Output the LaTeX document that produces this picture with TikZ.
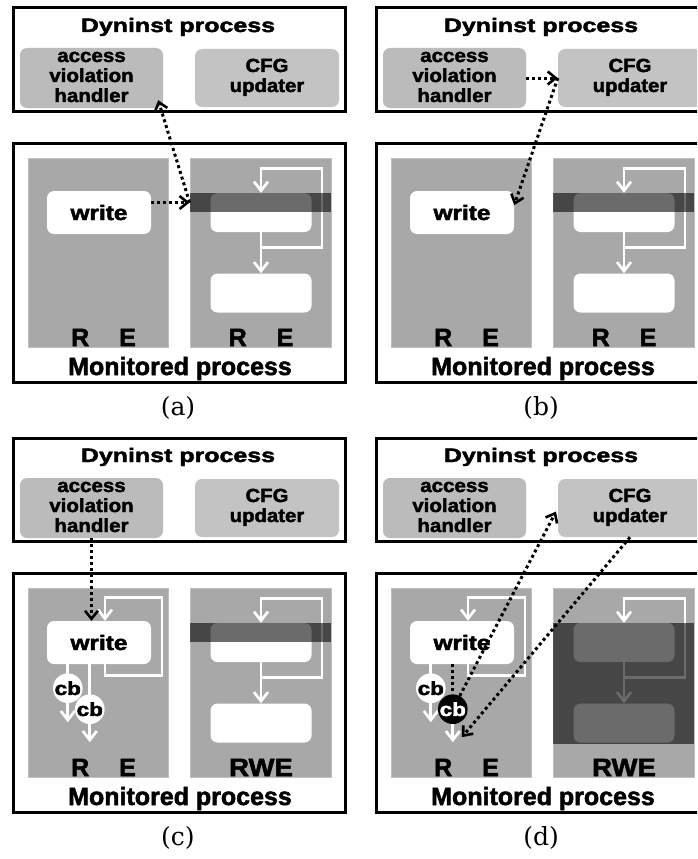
\documentclass[tikz,border=0pt]{standalone}
\usepackage{fontspec}
\usepackage{graphicx}
\newfontfamily\heavysans{Liberation Sans}[BoldFeatures={FakeBold=2}]
\newfontfamily\capserif{DejaVu Serif}
\usetikzlibrary{arrows.meta,calc,positioning}
\definecolor{regiongray}{HTML}{A8A8A8}
\definecolor{handlergray}{HTML}{BBBBBB}
\definecolor{updatergray}{HTML}{C3C3C3}
\newcommand{\wide}[2]{\scalebox{#1}[1]{#2}}
\newcommand{\bigsans}[1]{\heavysans\bfseries\fontsize{#1}{20}\selectfont}
\tikzset{
	outer box/.style={draw, line width=3pt, inner sep=0pt},
	region/.style={fill=regiongray, draw=white!75!black, line width=0.8pt, inner sep=0pt},
	tool box/.style={rounded corners=7pt, inner sep=0pt, minimum width=143pt, minimum height=58pt, font=\bigsans{19}},
	code box/.style={fill=white, rounded corners=7pt, inner sep=0pt, minimum width=101pt, minimum height=39pt},
	band/.style={fill=black, fill opacity=0.58, inner sep=0pt, minimum width=141pt, minimum height=19pt, anchor=north west},
	wline/.style={draw=white, line width=2.7pt},
	wtip/.style={-{Straight Barb[length=9pt, width=14pt]}},
	dotline/.style={line width=3pt, dash pattern=on 3pt off 3pt, line cap=butt},
	dotarrow/.style={dotline, -{Straight Barb[length=8pt, width=13pt, line width=2.6pt]}},
	cbnode/.style={circle, inner sep=0pt, minimum size=26pt, font=\bigsans{19}},
	perm/.style={font=\bigsans{25}, anchor=base},
	caption/.style={font=\capserif\fontsize{25}{30}\selectfont},
}
\begin{document}
\begin{tikzpicture}[x=1pt, y=-1pt]
\useasboundingbox (0,0) rectangle (697,859);
\clip (0,0) rectangle (697,859);

\foreach \p/\dx/\dy/\rlab in {a/0/0/{R\hspace{30pt}E}, b/363/0/{R\hspace{30pt}E}, c/0/430/{\wide{1.1}{RWE}}, d/363/430/{\wide{1.1}{RWE}}}{
\begin{scope}[shift={(\dx,\dy)}]
	% Dyninst side
	\node[outer box, minimum width=332pt, minimum height=103pt] (dyn\p) at (179,59.5) {};
	\node[font=\bigsans{19.5}, anchor=base] (dtitle\p) at (178,32) {\wide{1.28}{Dyninst process}};
	\node[tool box, fill=handlergray] (acc\p) at (91.5,78) {\wide{1.08}{\begin{tabular}{@{}c@{}}access\\violation\\handler\end{tabular}}};
	\node[tool box, fill=updatergray, minimum width=144pt] (cfg\p) at (267,78) {\wide{1.07}{\begin{tabular}{@{}c@{}}CFG\\updater\end{tabular}}};
	% monitored side
	\node[outer box, minimum width=332pt, minimum height=239pt] (mon\p) at (179,262.5) {};
	\node[region, minimum width=140pt, minimum height=189pt] (lft\p) at (98,252.5) {};
	\node[region, minimum width=141pt, minimum height=189pt] (rgt\p) at (260.5,252.5) {};
	\node[code box, minimum width=104pt, minimum height=43pt, font=\bigsans{21}] (write\p) at (99,212.5) {\wide{1.16}{write}};
	\node[code box] (top\p) at (261,212.5) {};
	\node[code box] (bot\p) at (261,293) {};
	\draw[wline, wtip] (top\p.south) -- ++(0,15) coordinate (join\p) -| ++(61,-79) -| (top\p.north);
	\draw[wline, wtip] (join\p) -- (bot\p.north);
	\node[perm] (rel\p) at (103.5,346) {R\hspace{30pt}E};
	\node[perm] (rer\p) at (261,346) {\rlab};
	\node[font=\bigsans{25}, anchor=base] (mtitle\p) at (180,375) {Monitored process};
	\node[caption] (cap\p) at (178,408) {(\p)};
\end{scope}
}

% write-protected band
\foreach \p in {a,b,c}{
	\node[band] (band\p) at (rgt\p.west |- top\p.north) {};
}
\node[band, minimum height=121pt] (shadow) at (rgtd.west |- topd.north) {};

% loop round the write and its callbacks
\foreach \p in {c,d}{
	\draw[wline, wtip] ($(write\p.south)+(6,0)$) -- ++(0,11) -| ++(57,-78) -| ($(write\p.north)+(6,0)$);
	\draw[wline, wtip] ($(write\p.south west)+(21,0)$) -- ++(0,58);
	\node[cbnode, fill=white] (cbw\p) at ($(write\p.south west)+(21,24)$) {\wide{1.18}{cb}};
}

% (a)
\draw[dotarrow] (writea.east |- banda.west) -- (banda.west);
\coordinate (hita) at ($(acca.south east)+(-5,-8)$);
\draw[dotarrow] (banda.west) -- (hita);

% (b)
\draw[dotarrow] (accb.east) -- (cfgb.west);
\draw[dotarrow] (cfgb.west) -- (writeb.8);

% (c)
\draw[wline, wtip] ($(writec.south west)+(43,0)$) -- ++(0,78);
\node[cbnode, fill=white] (cbbc) at ($(writec.south west)+(43,45)$) {\wide{1.18}{cb}};
\draw[dotarrow] (accc.south) -- (accc.south |- writec.north);

% (d)
\draw[wline, wtip] ($(writed.south west)+(43,45)$) -- ++(0,33);
\node[cbnode, fill=black, text=white] (cbbd) at ($(writed.south west)+(43,45)$) {\wide{1.18}{cb}};
\draw[dotline] (cbbd |- writed.south) -- (cbbd.north);
\coordinate (landd) at ($(cbbd)+(9,28)$);
\draw[dotarrow, shorten >=4pt] (cbbd) -- (cfgd.west);
\draw[dotarrow] (cfgd.south) -- (landd);
\end{tikzpicture}
\end{document}
